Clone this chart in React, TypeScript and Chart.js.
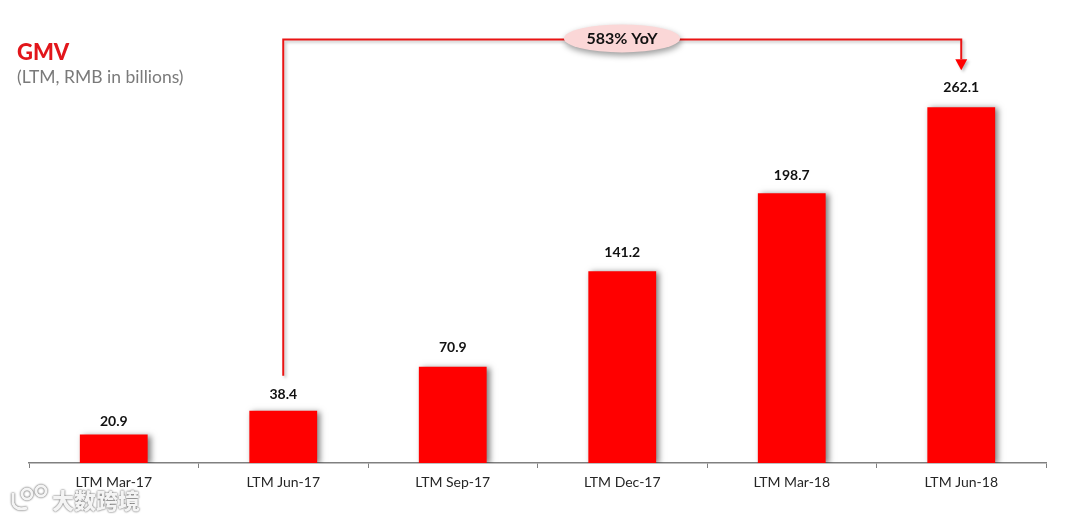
import { useEffect, useRef } from "react";
import { Chart, registerables, type ChartConfiguration, type Plugin } from "chart.js";

Chart.register(...registerables);

const categories = ["LTM Mar-17", "LTM Jun-17", "LTM Sep-17", "LTM Dec-17", "LTM Mar-18", "LTM Jun-18"];
const gmv = [20.9, 38.4, 70.9, 141.2, 198.7, 262.1];
const yMax = 341;
const bracketFrom = 1;
const bracketTo = 5;
const bracketLevel = 312;
const bracketLabel = "583% YoY";

const FONT = "Lato, 'Open Sans', sans-serif";
const RED = "#ff0000";
const LINE_RED = "#ea1414";
// gap in px between bar top and its value label, not quite even in the slide
const labelGaps = [13, 16, 19, 19, 18, 20];

// soft shadow to the lower right of each bar, like the slide's
const barShadow: Plugin = {
  id: "barShadow",
  beforeDatasetsDraw(chart) {
    const { ctx } = chart;
    ctx.save();
    ctx.shadowColor = "rgba(0,0,0,0.5)";
    ctx.shadowBlur = 6;
    ctx.shadowOffsetX = 3;
    ctx.shadowOffsetY = 1;
  },
  afterDatasetsDraw(chart) {
    chart.ctx.restore();
  },
};

const valueLabels: Plugin = {
  id: "valueLabels",
  afterDatasetsDraw(chart) {
    const { ctx } = chart;
    const meta = chart.getDatasetMeta(0);
    ctx.save();
    ctx.fillStyle = "#111";
    ctx.font = `bold 14px ${FONT}`;
    ctx.textAlign = "center";
    ctx.textBaseline = "middle";
    meta.data.forEach((bar, i) => {
      ctx.fillText(gmv[i].toFixed(1), bar.x, bar.y - labelGaps[i]);
    });
    ctx.restore();
  },
};

const yoyBracket: Plugin = {
  id: "yoyBracket",
  afterDraw(chart) {
    const { ctx } = chart;
    const meta = chart.getDatasetMeta(0);
    const from = meta.data[bracketFrom];
    const to = meta.data[bracketTo];
    const top = chart.scales.y.getPixelForValue(bracketLevel);
    const midX = 622;

    ctx.save();
    ctx.shadowColor = "rgba(0,0,0,0.25)";
    ctx.shadowBlur = 3;
    ctx.shadowOffsetX = 2;
    ctx.shadowOffsetY = 2;
    ctx.strokeStyle = LINE_RED;
    ctx.lineWidth = 2;
    ctx.beginPath();
    ctx.moveTo(from.x, from.y - 35);
    ctx.lineTo(from.x, top);
    ctx.lineTo(to.x, top);
    ctx.lineTo(to.x, to.y - 48);
    ctx.stroke();

    ctx.fillStyle = RED;
    ctx.beginPath();
    ctx.moveTo(to.x - 6, to.y - 48);
    ctx.lineTo(to.x + 6, to.y - 48);
    ctx.lineTo(to.x, to.y - 37);
    ctx.closePath();
    ctx.fill();

    ctx.shadowColor = "rgba(0,0,0,0.4)";
    ctx.shadowBlur = 6;
    ctx.shadowOffsetX = 1;
    ctx.shadowOffsetY = 3;
    ctx.fillStyle = "#fbd7d7";
    ctx.beginPath();
    ctx.ellipse(midX, top - 1, 58, 14, 0, 0, Math.PI * 2);
    ctx.fill();
    ctx.restore();

    ctx.save();
    ctx.fillStyle = "#111";
    ctx.font = `bold 16px ${FONT}`;
    ctx.textAlign = "center";
    ctx.textBaseline = "middle";
    ctx.fillText(bracketLabel, midX, top - 1);
    ctx.restore();
  },
};

const heading: Plugin = {
  id: "heading",
  afterDraw(chart) {
    const { ctx } = chart;
    ctx.save();
    ctx.textBaseline = "alphabetic";
    ctx.fillStyle = "#e2161b";
    ctx.font = `900 22px ${FONT}`;
    ctx.fillText("GMV", 17, 60);
    ctx.fillStyle = "#7a7a7a";
    ctx.font = `17.5px ${FONT}`;
    ctx.fillText("(LTM, RMB in billions)", 17, 83);
    ctx.restore();
  },
};

const watermark: Plugin = {
  id: "watermark",
  afterDraw(chart) {
    const { ctx } = chart;
    ctx.save();
    ctx.shadowColor = "rgba(0,0,0,0.8)";
    ctx.shadowBlur = 2;
    ctx.fillStyle = "#f4f4f4";
    ctx.strokeStyle = "#f4f4f4";
    ctx.lineWidth = 3;
    ctx.font = `900 22px "Noto Sans CJK SC", sans-serif`;
    ctx.textBaseline = "middle";
    ctx.fillText("大数跨境", 52, 501);
    ctx.beginPath();
    ctx.moveTo(13, 493);
    ctx.lineTo(13, 503);
    ctx.quadraticCurveTo(15, 511, 27, 508);
    ctx.stroke();
    ctx.beginPath();
    ctx.arc(27, 494, 5, 0, Math.PI * 2);
    ctx.stroke();
    ctx.beginPath();
    ctx.arc(41, 491, 5, 0, Math.PI * 2);
    ctx.stroke();
    ctx.restore();
  },
};

const config: ChartConfiguration = {
  type: "bar",
  data: {
    labels: categories,
    datasets: [
      {
        data: gmv,
        backgroundColor: RED,
        barPercentage: 0.4,
        categoryPercentage: 1,
      },
    ],
  },
  options: {
    responsive: false,
    animation: false,
    layout: { padding: { left: 29, right: 34, top: 0, bottom: 0 } },
    plugins: {
      legend: { display: false },
      title: { display: false },
      tooltip: { enabled: false },
    },
    scales: {
      x: {
        afterFit(axis) {
          axis.height = 57;
        },
        border: { color: "#808080", width: 1.5 },
        grid: {
          offset: true,
          drawOnChartArea: false,
          color: "#808080",
          tickLength: 5,
        },
        ticks: {
          color: "#262626",
          font: { family: FONT, size: 14 },
          padding: 6,
          maxRotation: 0,
          autoSkip: false,
        },
      },
      y: { display: false, min: 0, max: yMax },
    },
  },
  plugins: [barShadow, valueLabels, yoyBracket, heading, watermark],
};

export default function App() {
  const canvasRef = useRef<HTMLCanvasElement>(null);

  useEffect(() => {
    const canvas = canvasRef.current;
    if (!canvas) return;
    const chart = new Chart(canvas, config);
    return () => chart.destroy();
  }, []);

  return (
    <div style={{ position: "absolute", left: 0, top: 0, width: 1080, height: 520, background: "#fff" }}>
      <canvas ref={canvasRef} width={1080} height={520} style={{ display: "block" }} />
    </div>
  );
}
